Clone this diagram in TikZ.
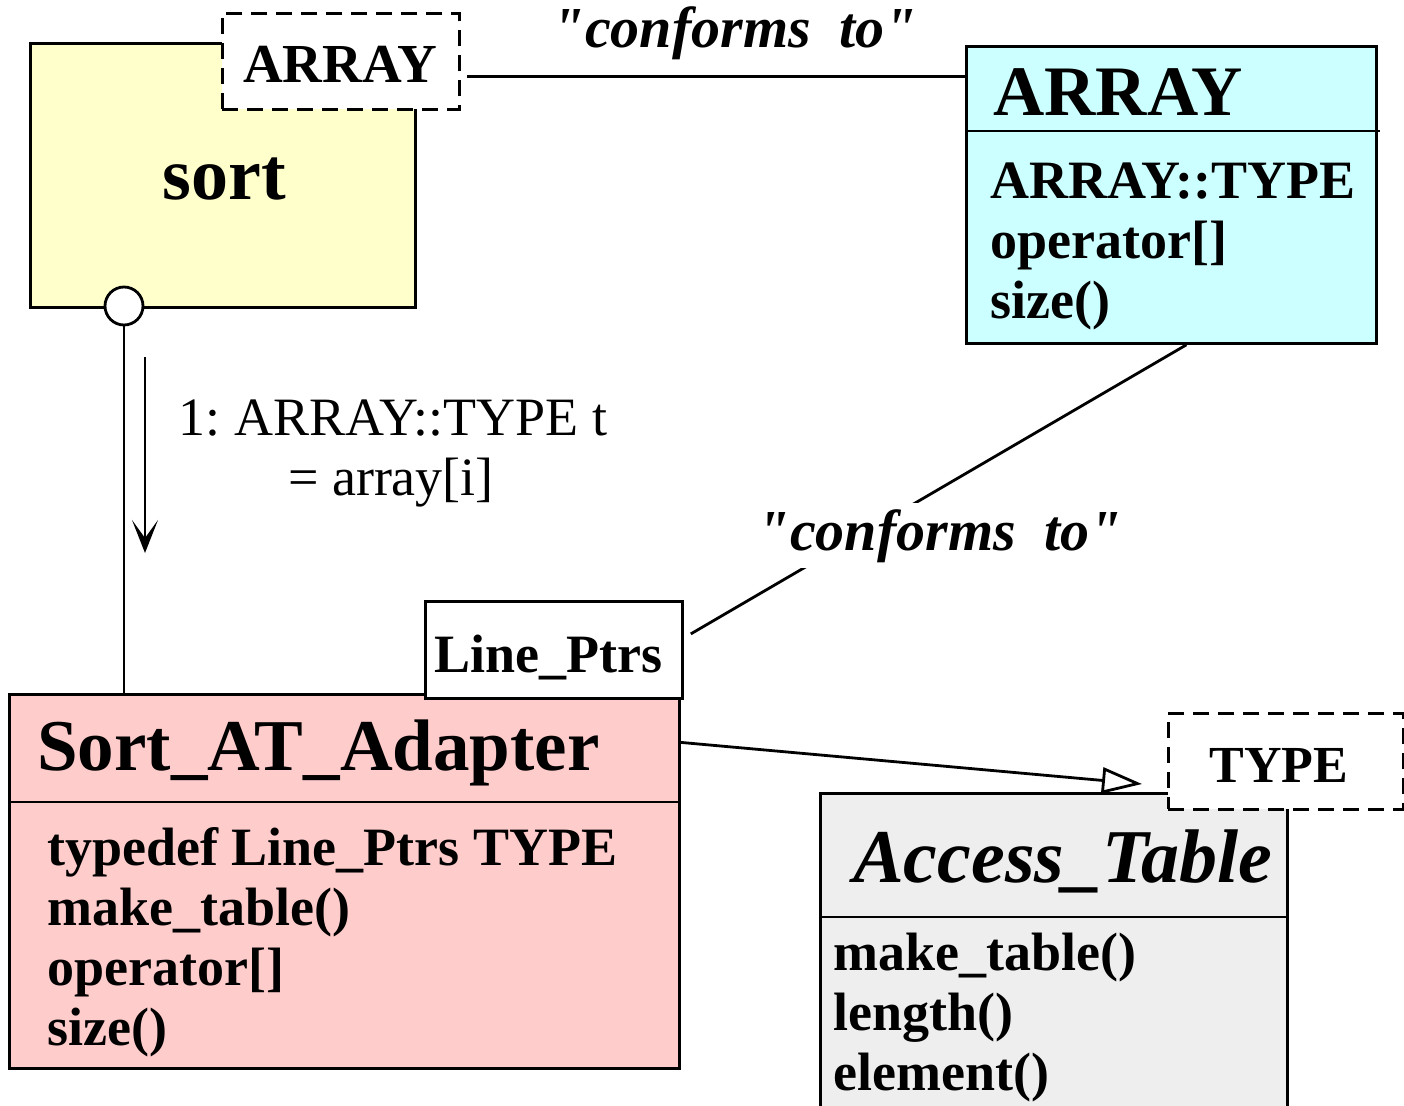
\documentclass[tikz,border=0pt]{standalone}
\usepackage{fontspec}
\setmainfont{Liberation Serif}
\usetikzlibrary{arrows.meta}
\definecolor{yel}{HTML}{FFFFCC}
\definecolor{cya}{HTML}{CCFFFF}
\definecolor{pnk}{HTML}{FFCCCC}
\definecolor{gry}{HTML}{EEEEEE}
\frenchspacing
\newcommand{\dq}{\XeTeXglyph\XeTeXcharglyph"22\relax}
\begin{document}
\begin{tikzpicture}[x=1pt,y=-1pt,
  box/.style={draw, line width=2.8pt, inner sep=0pt, anchor=north west},
  dbox/.style={box, fill=white, dash pattern=on 16pt off 9pt},
  txt/.style={inner sep=0pt, anchor=base west, font=\bfseries\fontsize{54}{60}\selectfont},
  ctxt/.style={txt, anchor=base},
  lbl/.style={inner sep=0pt, anchor=base, font=\bfseries\itshape\fontsize{58}{60}\selectfont},
  conn/.style={line width=2.8pt}]
\useasboundingbox (0,0) rectangle (1404,1105);
\clip (0,0) rectangle (1404,1105);

% sort box
\node[box, fill=yel, minimum width=385pt, minimum height=264pt] (sort) at (29,42) {};
\node[ctxt, font=\bfseries\fontsize{74}{80}\selectfont] (sorttxt) at (224,199) {sort};
\node[dbox, minimum width=237pt, minimum height=96pt] (arrlbl) at (221,12) {};
\node[ctxt, font=\bfseries\fontsize{55}{60}\selectfont] (arrlbltxt) at (340,83) {ARRAY};
\node[circle, draw, fill=white, line width=2.8pt, minimum size=38pt, inner sep=0pt] (port) at (124,306) {};

% ARRAY class
\node[box, fill=cya, minimum width=410pt, minimum height=297pt] (arr) at (965,45) {};
\coordinate (arrdl) at (965,131);
\coordinate (arrdr) at (1380,131);
\draw[conn] (arrdl) -- (arrdr);
\node[txt, font=\bfseries\fontsize{71}{80}\selectfont] (arrtitle) at (993,115) {ARRAY};
\node[txt] (arr1) at (990,198) {ARRAY::TYPE};
\node[txt] (arr2) at (990,258) {operator[]};
\node[txt] (arr3) at (990,318) {size()};

% Sort_AT_Adapter class
\node[box, fill=pnk, minimum width=670pt, minimum height=374pt] (saa) at (8,693) {};
\coordinate (saadl) at (8,802);
\coordinate (saadr) at (678,802);
\draw[conn] (saadl) -- (saadr);
\node[txt, font=\bfseries\fontsize{73}{80}\selectfont] (saatitle) at (37,770) {Sort\_AT\_Adapter};
\node[txt] (saa1) at (47,865) {typedef Line\_Ptrs TYPE};
\node[txt] (saa2) at (47,925) {make\_table()};
\node[txt] (saa3) at (47,985) {operator[]};
\node[txt] (saa4) at (47,1045) {size()};
\node[box, fill=white, minimum width=257pt, minimum height=97pt] (lp) at (424,600) {};
\node[ctxt] (lptxt) at (548,672) {Line\_Ptrs};

% Access_Table class
\node[box, fill=gry, minimum width=467pt, minimum height=330pt] (acc) at (819,792) {};
\coordinate (accdl) at (819,917);
\coordinate (accdr) at (1286,917);
\draw[conn] (accdl) -- (accdr);
\node[txt, font=\bfseries\itshape\fontsize{76}{80}\selectfont] (acctitle) at (853,882) {Access\_Table};
\node[txt] (acc1) at (833,970) {make\_table()};
\node[txt] (acc2) at (833,1030) {length()};
\node[txt] (acc3) at (833,1090) {element()};
\node[dbox, minimum width=235pt, minimum height=96pt] (typ) at (1167,712) {};
\node[ctxt, font=\bfseries\fontsize{52}{60}\selectfont] (typtxt) at (1279,782) {TYPE};

% connectors
\draw[conn] (port.south) -- (port |- saa.north);
\coordinate (m1) at (145,357);
\coordinate (m2) at (145,553);
\draw[line width=2.3pt, -{Stealth[length=33pt, width=26pt, inset=18pt]}] (m1) -- (m2);
\node[inner sep=0pt, anchor=base, font=\fontsize{54}{60}\selectfont] (msg1) at (393,435) {1: ARRAY::TYPE t};
\node[inner sep=0pt, anchor=base, font=\fontsize{54}{60}\selectfont] (msg2) at (391,495) {= array[i]};

\coordinate (c1) at ([xshift=6pt, yshift=-15pt]arrlbl.east);
\draw[conn] (c1) -- (c1 -| arr.west);
\node[lbl] (conf1) at (735,48) {\dq conforms\ \ to\dq};

\draw[conn] ([xshift=15pt]arr.south) -- ([shift={(7pt,16pt)}]lp.east);
\node[lbl, fill=white, inner sep=6pt] (conf2) at (940,550) {\dq conforms\ \ to\dq};

\coordinate (tip) at (1142,784);
\draw[conn, -{Triangle[open, length=40pt, width=26pt, fill=white]}] ([yshift=139pt]saa.east) -- (tip);
\end{tikzpicture}
\end{document}
